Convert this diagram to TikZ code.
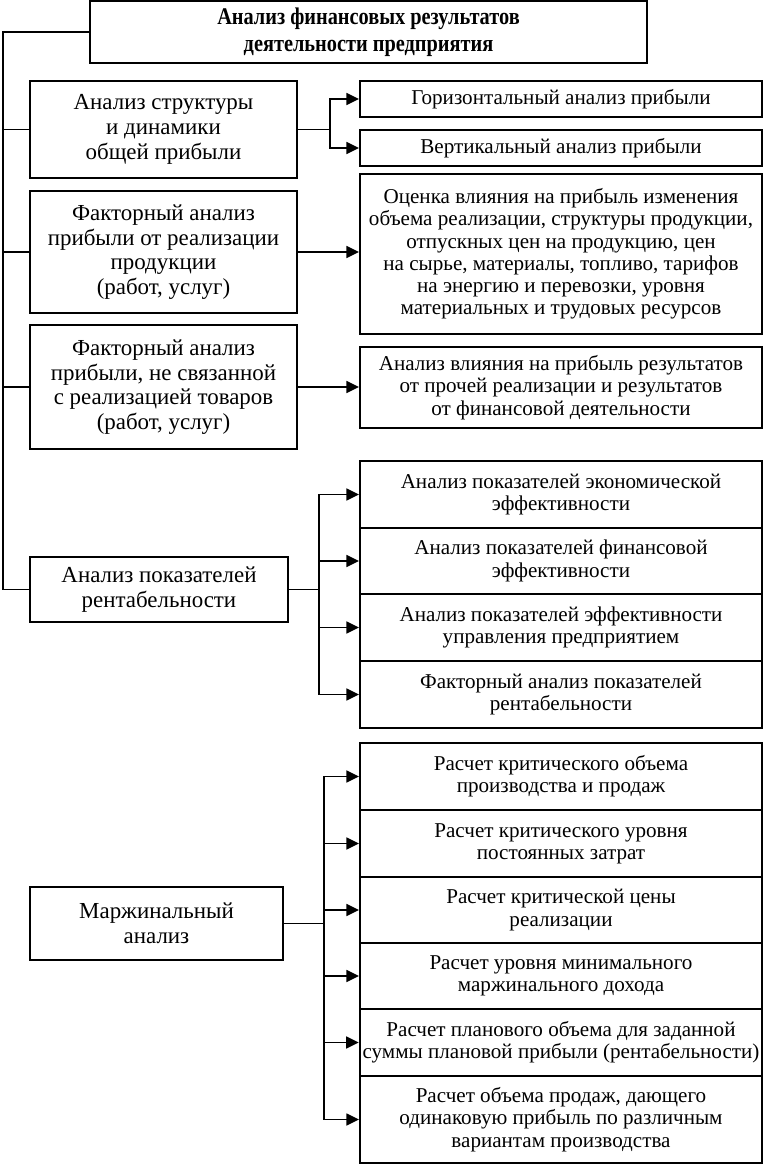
\documentclass[tikz,border=0pt]{standalone}
\usepackage{fontspec}
\setmainfont{Liberation Serif}
\newfontfamily\titlefont{Liberation Serif}[FakeStretch=0.85]
\usetikzlibrary{arrows.meta}
\tikzset{
  box/.style={draw, line width=1.4pt, align=center, inner sep=2pt,
    font=\fontsize{15}{15.8}\selectfont},
  lbox/.style={box, font=\fontsize{16.3}{17.6}\selectfont},
  rbox/.style={box, minimum width=10.05cm},
  link/.style={line width=1.3pt},
  arr/.style={line width=1.3pt, -{Triangle[length=9pt,width=8.5pt]}}
}
\begin{document}
\begin{tikzpicture}[x=0.025cm,y=-0.025cm]
\useasboundingbox (0,0) rectangle (763,1165);

\node[box, font=\titlefont\bfseries\fontsize{17}{19.5}\selectfont, minimum width=13.925cm, minimum height=1.55cm] (title) at (368.5,32) {Анализ финансовых результатов\\деятельности предприятия};

\node[lbox, minimum width=6.675cm, minimum height=2.425cm] (struct) at (163.5,129.5) {Анализ структуры\\и динамики\\общей прибыли};
\node[rbox, minimum height=0.9cm] (horiz) at (561,99) {Горизонтальный анализ прибыли};
\node[rbox, minimum height=0.9cm] (vert) at (561,148) {Вертикальный анализ прибыли};

\node[lbox, minimum width=6.675cm, minimum height=3.05cm] (factsale) at (163.5,252) {Факторный анализ\\прибыли от реализации\\продукции\\(работ, услуг)};
\node[rbox, minimum height=4.0cm] (influence) at (561,254) {Оценка влияния на прибыль изменения\\объема реализации, структуры продукции,\\отпускных цен на продукцию, цен\\на сырье, материалы, топливо, тарифов\\на энергию и перевозки, уровня\\материальных и трудовых ресурсов};

\node[lbox, minimum width=6.675cm, minimum height=3.1cm] (factother) at (163.5,387) {Факторный анализ\\прибыли, не связанной\\с реализацией товаров\\(работ, услуг)};
\node[rbox, minimum height=2.025cm] (other) at (561,387.5) {Анализ влияния на прибыль результатов\\от прочей реализации и результатов\\от финансовой деятельности};

\node[lbox, minimum width=6.45cm, minimum height=1.625cm] (rent) at (159,589.5) {Анализ показателей\\рентабельности};
\node[rbox, minimum height=1.67cm] (econ) at (561,494.5) {Анализ показателей экономической\\эффективности};
\node[rbox, minimum height=1.67cm] (fin) at (561,561) {Анализ показателей финансовой\\эффективности};
\node[rbox, minimum height=1.67cm] (mgmt) at (561,627.5) {Анализ показателей эффективности\\управления предприятием};
\node[rbox, minimum height=1.67cm] (factrent) at (561,694.5) {Факторный анализ показателей\\рентабельности};

\node[lbox, minimum width=6.325cm, minimum height=1.825cm] (marg) at (156.5,923.5) {Маржинальный\\анализ};
\node[rbox, minimum height=1.675cm] (critvol) at (561,776.5) {Расчет критического объема\\производства и продаж};
\node[rbox, minimum height=1.675cm] (critcost) at (561,843.5) {Расчет критического уровня\\постоянных затрат};
\node[rbox, minimum height=1.65cm] (critprice) at (561,910) {Расчет критической цены\\реализации};
\node[rbox, minimum height=1.65cm] (minmarg) at (561,976) {Расчет уровня минимального\\маржинального дохода};
\node[rbox, minimum height=1.675cm] (planvol) at (561,1042.5) {Расчет планового объема для заданной\\суммы плановой прибыли (рентабельности)};
\node[rbox, minimum height=2.175cm] (samevol) at (561,1119.5) {Расчет объема продаж, дающего\\одинаковую прибыль по различным\\вариантам производства};

\coordinate (trunk) at (3,0);
\draw[link] (title.west) -| (trunk |- rent.west) -- (rent.west);
\draw[link] (trunk |- struct.west) -- (struct.west);
\draw[link] (trunk |- factsale.west) -- (factsale.west);
\draw[link] (trunk |- factother.west) -- (factother.west);

\coordinate (s1) at (330,129.5);
\draw[link] (struct.east) -- (s1);
\draw[arr] (s1) |- (horiz.west);
\draw[arr] (s1) |- (vert.west);

\draw[arr] (factsale.east) -- (factsale.east -| influence.west);
\draw[arr] (factother.east) -- (factother.east -| other.west);

\coordinate (s4) at (319,589.5);
\draw[link] (rent.east) -- (s4);
\draw[arr] (s4) |- (econ.west);
\draw[arr] (s4) |- (fin.west);
\draw[arr] (s4) |- (mgmt.west);
\draw[arr] (s4) |- (factrent.west);

\coordinate (s5) at (324,923.5);
\draw[link] (marg.east) -- (s5);
\foreach \t in {critvol,critcost,critprice,minmarg,planvol,samevol}
  \draw[arr] (s5) |- (\t.west);
\end{tikzpicture}
\end{document}
